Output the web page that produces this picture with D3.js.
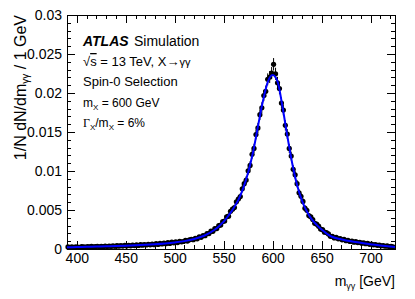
<!DOCTYPE html>
<html>
<head>
<meta charset="utf-8">
<script src="https://cdn.jsdelivr.net/npm/d3@7"></script>
<style>
  body { margin: 0; background: #fff; }
  text { font-family: "Liberation Sans", Arial, Helvetica, sans-serif; fill: #000; }
</style>
</head>
<body>
<div id="chart"></div>
<script>

// histogram binning (bin centres start at 391 GeV, 2 GeV apart)
var binStart = 391
var binWidth = 2

// normalised entries per bin
var binValues = [
    0.00026, 0.00020, 0.00027, 0.00022, 0.00029, 0.00024, 0.00021, 0.00030, 0.00026, 0.00023,  // 391-409
    0.00031, 0.00027, 0.00033, 0.00026, 0.00030, 0.00035, 0.00028, 0.00034, 0.00030, 0.00037,  // 411-429
    0.00031, 0.00038, 0.00033, 0.00041, 0.00034, 0.00042, 0.00036, 0.00044, 0.00038, 0.00046,  // 431-449
    0.00040, 0.00047, 0.00041, 0.00050, 0.00044, 0.00053, 0.00045, 0.00055, 0.00049, 0.00057,  // 451-469
    0.00051, 0.00060, 0.00053, 0.00064, 0.00056, 0.00068, 0.00059, 0.00071, 0.00064, 0.00077,  // 471-489
    0.00068, 0.00081, 0.00072, 0.00087, 0.00079, 0.00091, 0.00083, 0.00098, 0.00092, 0.00096,  // 491-509
    0.00110, 0.00101, 0.00118, 0.00125, 0.00119, 0.00136, 0.00131, 0.00157, 0.00150, 0.00172,  // 511-529
    0.00170, 0.00199, 0.00198, 0.00228, 0.00226, 0.00261, 0.00262, 0.00301, 0.00307, 0.00352,  // 531-549
    0.00359, 0.00412, 0.00421, 0.00483, 0.00510, 0.00531, 0.00605, 0.00641, 0.00672, 0.00771,  // 551-569
    0.00838, 0.00884, 0.01003, 0.01071, 0.01215, 0.01290, 0.01468, 0.01552, 0.01722, 0.01811,  // 571-589
    0.01968, 0.02021, 0.02175, 0.02205, 0.02255, 0.02368, 0.02246, 0.02131, 0.02058, 0.01872,  // 591-609
    0.01781, 0.01585, 0.01474, 0.01289, 0.01192, 0.01021, 0.00951, 0.00838, 0.00721, 0.00676,  // 611-629
    0.00610, 0.00523, 0.00496, 0.00428, 0.00412, 0.00378, 0.00329, 0.00318, 0.00293, 0.00255,  // 631-649
    0.00248, 0.00216, 0.00211, 0.00193, 0.00162, 0.00163, 0.00142, 0.00149, 0.00130, 0.00134,  // 651-669
    0.00117, 0.00123, 0.00106, 0.00111, 0.00096, 0.00101, 0.00088, 0.00094, 0.00082, 0.00085,  // 671-689
    0.00075, 0.00079, 0.00067, 0.00071, 0.00060, 0.00064, 0.00054, 0.00057, 0.00047, 0.00050,  // 691-709
    0.00041, 0.00044, 0.00035, 0.00039, 0.00031, 0.00034, 0.00028                               // 711-723
]

// fitted signal shape (blue line)
var fitMass = [390, 400, 410, 420, 430, 440, 450, 460, 470, 480, 490, 500, 510, 520, 530, 540,
    545, 550, 555, 560, 565, 570, 575, 580, 585, 590, 595, 600, 605, 610, 615, 620, 625, 630,
    635, 640, 645, 650, 660, 670, 680, 690, 700, 710, 720, 725]
var fitValues = [0.00022, 0.00025, 0.00028, 0.00031, 0.00034, 0.00038, 0.00042, 0.00047, 0.00053,
    0.00061, 0.00071, 0.00084, 0.00101, 0.00128, 0.00170, 0.00240,
    0.0029, 0.0035, 0.0043, 0.0052, 0.0063, 0.0078, 0.0098, 0.0124, 0.0157, 0.0189, 0.0214,
    0.0223, 0.0215, 0.0183, 0.0145, 0.0110, 0.0082, 0.0062, 0.0048, 0.0038, 0.0031, 0.0025,
    0.0016, 0.00125, 0.00098, 0.00080, 0.00062, 0.00045, 0.00032, 0.00027]

var xTicks = [400, 450, 500, 550, 600, 650, 700]
var xTickLabels = ['400', '450', '500', '550', '600', '650', '700']
var yTicks = [0, 0.005, 0.01, 0.015, 0.02, 0.025, 0.03]
var yTickLabels = ['0', '0.005', '0.01', '0.015', '0.02', '0.025', '0.03']

var W = 415, H = 299
var margin = {top: 15, right: 20, bottom: 50, left: 67}
var innerW = W - margin.left - margin.right,
    innerH = H - margin.top - margin.bottom

var svg = d3.select('#chart')
    .append('svg')
        .attr('width', W)
        .attr('height', H)

var g = svg.append('g')
    .attr('transform', 'translate(' + margin.left + ',' + margin.top + ')')

var x = d3.scaleLinear().domain([390, 725]).range([0, innerW])
var y = d3.scaleLinear().domain([0, 0.03]).range([innerH, 0])

var xMinor = d3.range(390, 726, 10).filter(function(d) { return d % 50 !== 0 })
var yMinor = d3.range(0, 31, 1).filter(function(d) { return d % 5 !== 0 }).map(function(d) { return d / 1000 })

// axes: ticks point inwards like ROOT
function styleAxis(sel) {
    sel.select('.domain').remove()
    sel.selectAll('line').attr('stroke', '#000').attr('shape-rendering', 'crispEdges')
    sel.selectAll('text').style('font-size', '14px')
        .style('font-family', '"Liberation Sans", Arial, sans-serif')
}

g.append('g')
    .attr('transform', 'translate(0,' + innerH + ')')
    .call(d3.axisBottom(x).tickValues(xTicks).tickSize(-8).tickPadding(4)
        .tickFormat(function(d, i) { return xTickLabels[i] }))
    .call(styleAxis)
g.append('g')
    .attr('transform', 'translate(0,' + innerH + ')')
    .call(d3.axisBottom(x).tickValues(xMinor).tickSize(-4).tickFormat(''))
    .call(styleAxis)
g.append('g')
    .call(d3.axisTop(x).tickValues(xTicks).tickSize(-8).tickFormat(''))
    .call(styleAxis)
g.append('g')
    .call(d3.axisTop(x).tickValues(xMinor).tickSize(-4).tickFormat(''))
    .call(styleAxis)

g.append('g')
    .call(d3.axisLeft(y).tickValues(yTicks).tickSize(-8).tickPadding(5)
        .tickFormat(function(d, i) { return yTickLabels[i] }))
    .call(styleAxis)
g.append('g')
    .call(d3.axisLeft(y).tickValues(yMinor).tickSize(-4).tickFormat(''))
    .call(styleAxis)
g.append('g')
    .attr('transform', 'translate(' + innerW + ',0)')
    .call(d3.axisRight(y).tickValues(yTicks).tickSize(-8).tickFormat(''))
    .call(styleAxis)
g.append('g')
    .attr('transform', 'translate(' + innerW + ',0)')
    .call(d3.axisRight(y).tickValues(yMinor).tickSize(-4).tickFormat(''))
    .call(styleAxis)

g.append('rect')
    .attr('width', innerW)
    .attr('height', innerH)
    .attr('fill', 'none')
    .attr('stroke', '#000')
    .attr('shape-rendering', 'crispEdges')

// data points with statistical error bars
var points = binValues.map(function(v, i) {
    return {m: binStart + i * binWidth, v: v, err: 0.0052 * Math.sqrt(v)}
})

g.selectAll('line.err')
    .data(points)
    .enter()
    .append('line')
    .attr('class', 'err')
    .attr('x1', function(d) { return x(d.m) })
    .attr('x2', function(d) { return x(d.m) })
    .attr('y1', function(d) { return y(d.v - d.err) })
    .attr('y2', function(d) { return y(d.v + d.err) })
    .attr('stroke', '#000')
    .attr('stroke-width', 1)

g.selectAll('circle')
    .data(points)
    .enter()
    .append('circle')
    .attr('cx', function(d) { return x(d.m) })
    .attr('cy', function(d) { return y(d.v) })
    .attr('r', 2.6)
    .attr('fill', '#000')

var fitLine = d3.line()
    .x(function(d) { return x(d[0]) })
    .y(function(d) { return y(d[1]) })
    .curve(d3.curveMonotoneX)

g.append('path')
    .datum(d3.zip(fitMass, fitValues))
    .attr('d', fitLine)
    .attr('fill', 'none')
    .attr('stroke', '#0000ff')
    .attr('stroke-width', 2)

// axis titles
var xt = svg.append('text')
    .attr('x', margin.left + innerW)
    .attr('y', 286)
    .attr('text-anchor', 'end')
    .style('font-size', '14px')
xt.append('tspan').text('m')
xt.append('tspan').attr('dy', 3).style('font-size', '9px').text('γγ')
xt.append('tspan').attr('dy', -3).text(' [GeV]')

var yt = svg.append('text')
    .attr('transform', 'translate(26,' + margin.top + ') rotate(-90)')
    .attr('text-anchor', 'end')
    .style('font-size', '16px')
yt.append('tspan').text('1/N dN/dm')
yt.append('tspan').attr('dy', 3).style('font-size', '10px').text('γγ')
yt.append('tspan').attr('dy', -3).text(' / 1 GeV')

// ATLAS label block
var lx = 83
var t1 = svg.append('text').attr('x', lx).attr('y', 46).style('font-size', '14px')
t1.append('tspan').style('font-weight', 'bold').style('font-style', 'italic').text('ATLAS')
t1.append('tspan').attr('x', 134).text('Simulation')

var t2 = svg.append('text').attr('x', lx).attr('y', 66).style('font-size', '13px')
t2.append('tspan').text('√')
t2.append('tspan').style('text-decoration', 'overline').text('s')
t2.append('tspan').text(' = 13 TeV, X→')
t2.append('tspan').style('font-size', '11px').text('γγ')

svg.append('text').attr('x', lx).attr('y', 86).style('font-size', '13px').text('Spin-0 Selection')

var t4 = svg.append('text').attr('x', lx).attr('y', 107).style('font-size', '12px')
t4.append('tspan').text('m')
t4.append('tspan').attr('dy', 3).style('font-size', '8px').text('X')
t4.append('tspan').attr('dy', -3).text(' = 600 GeV')

var t5 = svg.append('text').attr('x', lx).attr('y', 127).style('font-size', '12px')
t5.append('tspan').style('font-family', '"Liberation Serif", serif').text('Γ')
t5.append('tspan').attr('dy', 3).style('font-size', '8px').text('X')
t5.append('tspan').attr('dy', -3).text('/m')
t5.append('tspan').attr('dy', 3).style('font-size', '8px').text('X')
t5.append('tspan').attr('dy', -3).text(' = 6%')

</script>
</body>
</html>
